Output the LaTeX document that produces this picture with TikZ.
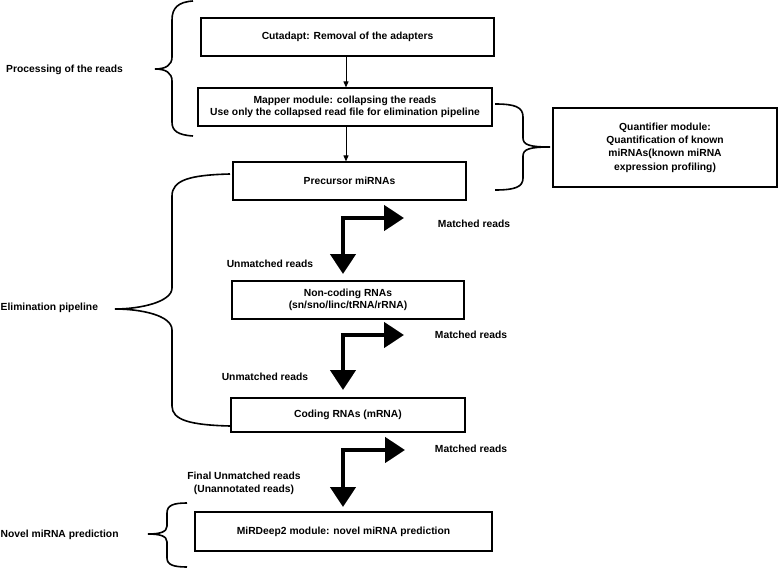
\documentclass[tikz,border=0pt]{standalone}
\usepackage{fontspec}
\setmainfont{Liberation Sans}
\usetikzlibrary{arrows.meta,calc}
\begin{document}
\begin{tikzpicture}[x=1pt,y=-1pt,
  lbl/.style={font=\fontsize{10.3}{12.5}\selectfont\bfseries, inner sep=0pt, align=center},
  box/.style={draw, line width=1.2pt, lbl},
  thinarr/.style={line width=1pt, -{Triangle[length=6pt,width=5pt]}},
  bracepath/.style={line width=1.6pt},
  fatarr/.style={line width=4.5pt, -{Triangle[length=20pt,width=25pt]}}]
\useasboundingbox (0,0) rectangle (778,569);

% boxes
\node[box, minimum width=293pt, minimum height=38pt] (cut) at (347.5,37) {Cutadapt: Removal of the adapters};
\node[box, minimum width=294pt, minimum height=38pt] (map) at (345,107) {Mapper module: collapsing the reads\\Use only the collapsed read file for elimination pipeline};
\node[box, minimum width=233pt, minimum height=38pt] (pre) at (349.5,181) {Precursor miRNAs};
\node[box, minimum width=232pt, minimum height=38pt] (nc) at (348,300) {Non-coding RNAs\\(sn/sno/linc/tRNA/rRNA)};
\node[box, minimum width=234pt, minimum height=34pt] (cod) at (348,415) {Coding RNAs (mRNA)};
\node[box, minimum width=297pt, minimum height=39pt] (mir) at (343.5,531.5) {MiRDeep2 module: novel miRNA prediction};
\node[box, minimum width=224pt, minimum height=79pt, font=\fontsize{10.3}{13.3}\selectfont\bfseries] (quant) at (665,147.5) {Quantifier module:\\Quantification of known\\miRNAs(known miRNA\\expression profiling)};

% thin arrows
\coordinate (ax) at (346,0);
\draw[thinarr] (cut.south -| ax) -- (map.north -| ax);
\draw[thinarr] (map.south -| ax) -- (pre.north -| ax);

% fat elbow arrows
\coordinate (c1) at (343,218); \coordinate (c1l) at (340.75,218);
\coordinate (r1) at (404,218); \coordinate (d1) at (343,274);
\draw[fatarr] (c1) -- (d1);
\draw[fatarr] (c1l) -- (r1);

\coordinate (c2) at (343,335); \coordinate (c2l) at (340.75,335);
\coordinate (r2) at (404,335); \coordinate (d2) at (343,390);
\draw[fatarr] (c2) -- (d2);
\draw[fatarr] (c2l) -- (r2);

\coordinate (c3) at (343,450); \coordinate (c3l) at (340.75,450);
\coordinate (r3) at (405,450); \coordinate (d3) at (343,507);
\draw[fatarr] (c3) -- (d3);
\draw[fatarr] (c3l) -- (r3);

% labels
\node[lbl] (m1) at (474,224) {Matched reads};
\node[lbl] (u1) at (270,264) {Unmatched reads};
\node[lbl] (m2) at (471,335) {Matched reads};
\node[lbl] (u2) at (265,377) {Unmatched reads};
\node[lbl] (m3) at (471,449) {Matched reads};
\node[lbl, font=\fontsize{10.3}{13}\selectfont\bfseries] (fu) at (244,483.5) {Final Unmatched reads\\(Unannotated reads)};
\node[lbl, anchor=west] (proc) at (6,70) {Processing of the reads};
\node[lbl, anchor=west] (elim) at (0.5,308) {Elimination pipeline};
\node[lbl, anchor=west] (nov) at (0.5,535) {Novel miRNA prediction};

% braces
\draw[bracepath] (193,1) .. controls (178,2) and (172,8) .. (172,20) -- (172,57)
  .. controls (172,65) and (166,69) .. (155,69)
  .. controls (166,69) and (172,73) .. (172,81) -- (172,122)
  .. controls (172,131) and (178,135) .. (193,136);
\draw[bracepath] (495,104) .. controls (515,104) and (523,107) .. (523,117) -- (523,138)
  .. controls (523,145) and (530,147) .. (550,147)
  .. controls (530,147) and (523,149) .. (523,156) -- (523,178)
  .. controls (523,187) and (515,190) .. (495,190);
\draw[bracepath] (230,174) .. controls (190,175) and (172,180) .. (172,196) -- (172,288)
  .. controls (172,302) and (140,309) .. (115,309)
  .. controls (140,309) and (172,315) .. (172,330) -- (172,406)
  .. controls (172,420) and (190,425) .. (230,426);
\draw[bracepath] (187,503) .. controls (174,503) and (167,505) .. (167,513) -- (167,526)
  .. controls (167,532) and (160,534) .. (148,534)
  .. controls (160,534) and (167,536) .. (167,542) -- (167,558)
  .. controls (167,565) and (174,567) .. (187,567);
\end{tikzpicture}
\end{document}
